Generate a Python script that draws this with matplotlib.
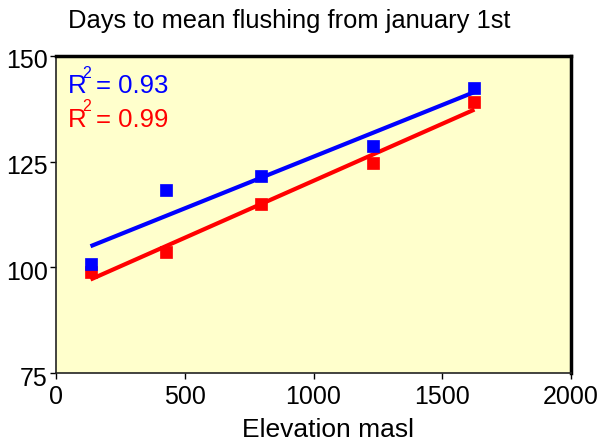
import numpy as np
import matplotlib
matplotlib.use("Agg")
import matplotlib.pyplot as plt
import matplotlib.transforms as mtransforms

elevation = [134, 429, 798, 1233, 1625]
days_blue = [100.8, 118.3, 121.5, 128.7, 142.5]
days_red = [98.8, 103.7, 115.0, 124.6, 139.2]
r2_labels = ["0.93", "0.99"]
xticks = [0, 500, 1000, 1500, 2000]
yticks = [75, 100, 125, 150]

plt.rcParams['font.family'] = ['Liberation Sans', 'DejaVu Sans']

W, H = 603, 446
fig = plt.figure(figsize=(W/100, H/100), dpi=100)
L, R, T, B = 56, 571, 56, 373
ax = fig.add_axes([L/W, 1-B/H, (R-L)/W, (B-T)/H])
ax.set_facecolor('#FFFFCC')
ax.set_xlim(0, 2000)
ax.set_ylim(75, 150)

x = np.array(elevation)
for ys, col, z in [(days_red, '#FF0000', 3), (days_blue, '#0000FF', 4)]:
    ys = np.array(ys)
    p = np.polyfit(x, ys, 1)
    xl = np.array([x.min(), x.max()])
    ax.plot(xl, np.polyval(p, xl), color=col, lw=3, solid_capstyle='butt', zorder=2)
    ax.plot(x, ys, 's', color=col, ms=8, mec=col, mew=0.5, zorder=z)

ax.set_xticks(xticks)
ax.set_yticks(yticks)
ax.tick_params(axis='both', labelsize=18, length=4, width=1, direction='out')
ax.tick_params(axis='x', pad=5)
ax.tick_params(axis='y', pad=2)
off = mtransforms.ScaledTranslation(0, -3/100, fig.dpi_scale_trans)
for lab in ax.get_yticklabels():
    lab.set_transform(lab.get_transform() + off)

fig.text(328/W, 1-430/H, 'Elevation masl', fontsize=19, ha='center', va='center')

for s in ['top', 'right']:
    ax.spines[s].set_linewidth(2.5)
for s in ['left', 'bottom']:
    ax.spines[s].set_linewidth(1.2)
    ax.spines[s].set_color('#222222')

for i, (lab, col) in enumerate(zip(r2_labels, ['#0000FF', '#FF0000'])):
    yb = [0.883, 0.776][i]
    ax.text(0.024, yb, 'R', color=col, fontsize=18.5, transform=ax.transAxes, va='baseline', ha='left')
    ax.text(0.051, yb + 0.049, '2', color=col, fontsize=11.5, transform=ax.transAxes, va='baseline', ha='left')
    ax.text(0.077, yb, '= ' + lab, color=col, fontsize=18.5, transform=ax.transAxes, va='baseline', ha='left')

fig.text(68/W, 1-28/H, 'Days to mean flushing from january 1st', fontsize=18.4, va='baseline', ha='left')

fig.savefig('out.png', dpi=100)
